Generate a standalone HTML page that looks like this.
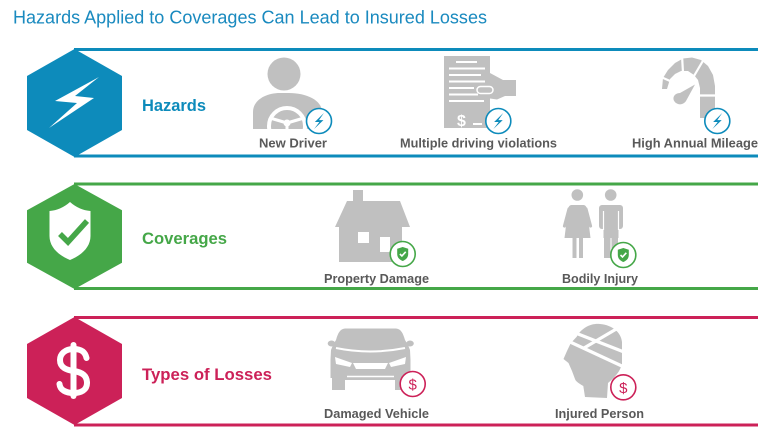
<!DOCTYPE html>
<html><head><meta charset="utf-8"><style>
html,body{margin:0;padding:0;background:#fff;}
svg{display:block;font-family:"Liberation Sans",Arial,sans-serif;}
</style></head><body>
<svg width="775" height="436" viewBox="0 0 775 436" xmlns="http://www.w3.org/2000/svg">
<rect width="775" height="436" fill="#fff"/>
<text x="13" y="23.5" font-size="18.5" fill="#1a8abf" textLength="474" lengthAdjust="spacingAndGlyphs">Hazards Applied to Coverages Can Lead to Insured Losses</text>

<!-- Row 1 Hazards -->
<g stroke="#0d8bbb" stroke-width="3"><line x1="74" y1="49.5" x2="758" y2="49.5"/><line x1="74" y1="156" x2="758" y2="156"/></g>
<polygon points="74.5,49 122,76 122,130 74.5,157 27,130 27,76" fill="#0d8bbb"/>
<polygon points="99,77 55,101 77,103 49,128 94,98 75,96" fill="#fff"/>
<text x="142" y="111" font-size="16.5" font-weight="bold" fill="#0d8bbb" textLength="64" lengthAdjust="spacingAndGlyphs">Hazards</text>

<!-- New driver -->
<circle cx="284" cy="74" r="16.5" fill="#c0c0c0"/>
<clipPath id="bodyc"><path d="M253,129 L253,112 C253,100 266,93 280,93 L289,93 C306,93 322,100 322,112 L322,129 Z"/></clipPath>
<path d="M253,129 L253,112 C253,100 266,93 280,93 L289,93 C306,93 322,100 322,112 L322,129 Z" fill="#c0c0c0"/>
<g clip-path="url(#bodyc)" stroke="#fff" fill="none">
<circle cx="287" cy="126" r="18" stroke-width="4"/>
<line x1="270" y1="118" x2="287" y2="123" stroke-width="3"/>
<line x1="304" y1="118" x2="287" y2="123" stroke-width="3"/>
<line x1="287" y1="123" x2="287" y2="135" stroke-width="3"/>
<circle cx="287" cy="123" r="3.5" fill="#fff" stroke="none"/>
</g>
<circle cx="319" cy="121" r="12.5" fill="#fff" stroke="#0d8bbb" stroke-width="1.6"/>
<polygon transform="translate(319,121) scale(1.3)" points="3.8,-6.2 -3.2,0.8 0.3,0.8 -3.8,6.2 3.4,-0.7 0,-0.7" fill="#0d8bbb"/>
<text x="259" y="147.5" font-size="13" font-weight="bold" fill="#595959" textLength="68" lengthAdjust="spacingAndGlyphs">New Driver</text>

<!-- Document -->
<rect x="444" y="56" width="46" height="72" fill="#c0c0c0"/>
<polygon points="490,73 503,80 516,80 516,96 505,96 497,99.5 490,98.5" fill="#c0c0c0"/>
<g stroke="#fff" stroke-width="2">
<line x1="456" y1="62" x2="477" y2="62"/>
<line x1="449" y1="68.5" x2="485" y2="68.5"/>
<line x1="449" y1="75" x2="481" y2="75"/>
<line x1="449" y1="81.5" x2="485" y2="81.5"/>
<line x1="449" y1="88" x2="474" y2="88"/>
<line x1="449" y1="94.5" x2="478" y2="94.5"/>
<line x1="449" y1="101" x2="484" y2="101"/>
<line x1="473" y1="124" x2="482" y2="124"/>
</g>
<rect x="477" y="86.5" width="16" height="7" rx="3.5" fill="#c0c0c0" stroke="#fff" stroke-width="1.5"/>
<text x="457" y="126" font-size="16" font-weight="bold" fill="#fff">$</text>
<circle cx="498.3" cy="121" r="12.5" fill="#fff" stroke="#0d8bbb" stroke-width="1.6"/>
<polygon transform="translate(498.3,121) scale(1.3)" points="3.8,-6.2 -3.2,0.8 0.3,0.8 -3.8,6.2 3.4,-0.7 0,-0.7" fill="#0d8bbb"/>
<text x="400" y="147.5" font-size="13" font-weight="bold" fill="#595959" textLength="157" lengthAdjust="spacingAndGlyphs">Multiple driving violations</text>

<!-- Speedometer -->
<path d="M662,89 L663,78 L668,70 L675,63 L683,58.5 L692,57.5 L701,60 L708,66 L713,75 L715,86 L715,118 L700,118 L700,88 L698,80 L694,75 L688,71 L681,71 L675,74 L670,79 L667,89 Z" fill="#c0c0c0"/>
<g stroke="#fff" stroke-width="2.2">
<line x1="661" y1="77" x2="670" y2="81"/>
<line x1="682" y1="55" x2="683" y2="73"/>
<line x1="704" y1="59" x2="694" y2="76"/>
<line x1="697" y1="95.5" x2="718" y2="95.5"/>
</g>
<path d="M676,103 C671,99 674,93 680,93 L695,84.5 L686,101 C683,105 679,105 676,103 Z" fill="#c0c0c0"/>
<circle cx="717.3" cy="121" r="12.5" fill="#fff" stroke="#0d8bbb" stroke-width="1.6"/>
<polygon transform="translate(717.3,121) scale(1.3)" points="3.8,-6.2 -3.2,0.8 0.3,0.8 -3.8,6.2 3.4,-0.7 0,-0.7" fill="#0d8bbb"/>
<text x="632" y="147.5" font-size="13" font-weight="bold" fill="#595959" textLength="126" lengthAdjust="spacingAndGlyphs">High Annual Mileage</text>

<!-- Row 2 Coverages -->
<g stroke="#45a748" stroke-width="3"><line x1="74" y1="184" x2="758" y2="184"/><line x1="74" y1="288.5" x2="758" y2="288.5"/></g>
<polygon points="74.5,184 122,210.25 122,262.75 74.5,289 27,262.75 27,210.25" fill="#45a748"/>
<path d="M49.5,211 Q61,210 70,202 Q79,210 90.5,211 L90.5,236 C90.5,248 80,256 70,260 C60,256 49.5,248 49.5,236 Z" fill="#fff"/>
<polyline points="60,234 68,242 87,221" fill="none" stroke="#45a748" stroke-width="5.5"/>
<text x="142" y="244" font-size="16.5" font-weight="bold" fill="#45a748" textLength="85" lengthAdjust="spacingAndGlyphs">Coverages</text>

<!-- House -->
<rect x="353" y="190" width="10" height="12" fill="#c0c0c0"/>
<polygon points="347,201 400,201 410,227 335,227" fill="#c0c0c0"/>
<rect x="339" y="226.5" width="63" height="35.5" fill="#c0c0c0"/>
<rect x="358" y="232" width="11" height="11" fill="#fff"/>
<rect x="380" y="237" width="10" height="15" fill="#fff"/>
<circle cx="402.7" cy="254" r="12.5" fill="#fff" stroke="#45a748" stroke-width="1.6"/>
<g transform="translate(402.7,254)">
<path d="M-5.5,-5.2 L0,-7 L5.5,-5.2 L5.5,0 C5.5,4 2.5,6 0,7 C-2.5,6 -5.5,4 -5.5,0 Z" fill="#45a748"/>
<polyline points="-2.8,0 -0.8,2 3,-2.2" fill="none" stroke="#fff" stroke-width="1.6"/>
</g>
<text x="324" y="283" font-size="13" font-weight="bold" fill="#595959" textLength="105" lengthAdjust="spacingAndGlyphs">Property Damage</text>

<!-- People -->
<g fill="#c0c0c0">
<circle cx="577.3" cy="195" r="5.8"/>
<path d="M571.5,205 L583.5,205 C585.5,205 586.5,207 587,209 L590.5,238 L564.5,238 L568,209 C568.5,207 569.5,205 571.5,205 Z"/>
<rect x="572.5" y="236" width="4" height="22"/>
<rect x="579" y="236" width="4" height="22"/>
<circle cx="610.7" cy="195" r="5.8"/>
<rect x="599" y="205" width="24" height="24" rx="3"/>
<rect x="603.5" y="226" width="15" height="12"/>
<rect x="604" y="236" width="6.5" height="22"/>
<rect x="611.5" y="236" width="6.5" height="22"/>
</g>
<g stroke="#c0c0c0" stroke-width="3.2" stroke-linecap="round">
<line x1="569" y1="209" x2="564.5" y2="226"/>
<line x1="586" y1="209" x2="590.5" y2="226"/>
</g>
<g stroke="#fff" stroke-width="1.2">
<line x1="603.5" y1="211" x2="603.5" y2="230"/>
<line x1="618.5" y1="211" x2="618.5" y2="230"/>
</g>
<circle cx="623.3" cy="255" r="12.5" fill="#fff" stroke="#45a748" stroke-width="1.6"/>
<g transform="translate(623.3,255)">
<path d="M-5.5,-5.2 L0,-7 L5.5,-5.2 L5.5,0 C5.5,4 2.5,6 0,7 C-2.5,6 -5.5,4 -5.5,0 Z" fill="#45a748"/>
<polyline points="-2.8,0 -0.8,2 3,-2.2" fill="none" stroke="#fff" stroke-width="1.6"/>
</g>
<text x="562" y="283" font-size="13" font-weight="bold" fill="#595959" textLength="76" lengthAdjust="spacingAndGlyphs">Bodily Injury</text>

<!-- Row 3 Types of Losses -->
<g stroke="#cc2158" stroke-width="3"><line x1="74" y1="317.5" x2="758" y2="317.5"/><line x1="74" y1="425" x2="758" y2="425"/></g>
<polygon points="74.5,317 122,344 122,398 74.5,425 27,398 27,344" fill="#cc2158"/>
<g stroke="#fff" stroke-width="6" stroke-linecap="round" fill="none">
<line x1="73.5" y1="345" x2="73.5" y2="396"/>
<path d="M86.5,358 C85,351 80,349 73.5,349 C65,349 60,354 60,360 C60,368 67,370 73.5,371 C81,372 87,375 87,383 C87,390 81,393 73.5,393 C66,393 60,390 59.5,384"/>
</g>
<text x="142" y="380" font-size="16.5" font-weight="bold" fill="#cc2158" textLength="130" lengthAdjust="spacingAndGlyphs">Types of Losses</text>

<!-- Car -->
<path d="M345,328.5 C340,329 338,333 336,340 L333,345 L331,350 L330.5,360 L330.5,378 L332,378 L332,390 L345,390 L345,380 L395,380 L395,390 L408.5,390 L408.5,378 L410.5,378 L410.5,360 L410,350 L408,345 L405,340 C403,333 401,329 396,328.5 Z" fill="#c0c0c0"/>
<ellipse cx="331.5" cy="343.5" rx="3.8" ry="3" fill="#c0c0c0"/>
<ellipse cx="410" cy="343.5" rx="3.8" ry="3" fill="#c0c0c0"/>
<path d="M336,348 Q370,355 405,348" fill="none" stroke="#fff" stroke-width="2"/>
<polygon points="335,357 352,363 350,367 336,364" fill="#fff"/>
<polygon points="406,357 389,363 391,367 405,364" fill="#fff"/>
<polygon points="353,363 388,363 385,369 356,369" fill="#fff"/>
<line x1="347" y1="376.5" x2="394" y2="376.5" stroke="#fff" stroke-width="1.5"/>
<circle cx="412.7" cy="384" r="12.5" fill="#fff" stroke="#cc2158" stroke-width="1.6"/>
<text x="412.7" y="389.5" font-size="15" text-anchor="middle" fill="#cc2158">$</text>
<text x="324" y="418" font-size="13" font-weight="bold" fill="#595959" textLength="105" lengthAdjust="spacingAndGlyphs">Damaged Vehicle</text>

<!-- Injured head -->
<path d="M576.7,336.7 C582,327 592,323 600,324 C612,325 621,332 622,342 L622,364 C620,372 614,378 608,383 L607,398 L585,397 L583.3,386 C580,384 576,382 575,379 L572,371 L568.5,363 L563.5,359 L567,351 L570.7,343.3 Z" fill="#c0c0c0"/>
<g stroke="#fff" stroke-width="3.2">
<line x1="573" y1="332" x2="624" y2="352"/>
<line x1="568" y1="341" x2="624" y2="367"/>
<line x1="584" y1="348" x2="618" y2="328"/>
</g>
<circle cx="623.3" cy="387.3" r="12.5" fill="#fff" stroke="#cc2158" stroke-width="1.6"/>
<text x="623.3" y="392.8" font-size="15" text-anchor="middle" fill="#cc2158">$</text>
<text x="555" y="418" font-size="13" font-weight="bold" fill="#595959" textLength="89" lengthAdjust="spacingAndGlyphs">Injured Person</text>
</svg>
</body></html>
